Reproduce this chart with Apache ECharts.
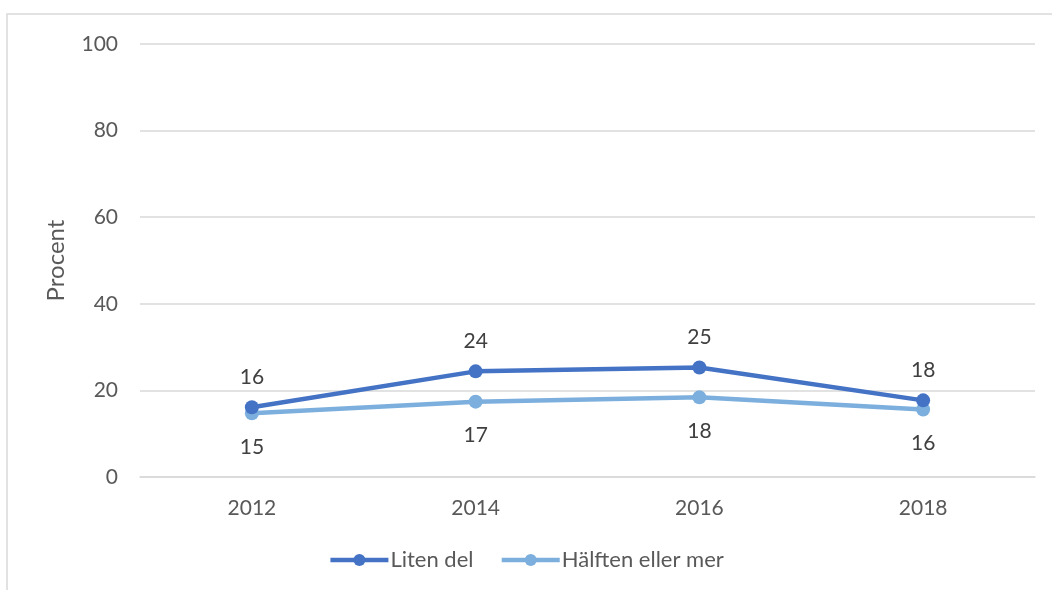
<!DOCTYPE html>
<html>
<head>
<meta charset="utf-8">
<script src="https://cdn.jsdelivr.net/npm/echarts@6/dist/echarts.min.js"></script>
<style>
	html, body { margin: 0; padding: 0; background: #fff; }
	#myChart { width: 1052px; height: 590px; }
</style>
</head>
<body>
<div id="myChart"></div>
<script>
	// data
	var years = ['2012', '2014', '2016', '2018'];
	var litenDel = [16.1, 24.4, 25.3, 17.7];
	var halftenEllerMer = [14.7, 17.4, 18.4, 15.6];
	var yTicks = { min: 0, max: 100, interval: 20 };

	var font = 'Lato, "Noto Sans", sans-serif';
	var myChart = echarts.init(document.getElementById('myChart'));
	myChart.setOption({
		animation: false,
		color: ['#4472c4', '#7cafdd'],
		textStyle: { fontFamily: font },
		graphic: [{
			type: 'rect',
			shape: { x: 7, y: 14, width: 1200, height: 700 },
			style: { fill: 'none', stroke: '#d9d9d9', lineWidth: 1.5 },
			silent: true
		}],
		grid: { left: 140, right: 17, top: 44, bottom: 113 },
		legend: {
			bottom: 14,
			left: 'center',
			itemWidth: 58,
			itemHeight: 15,
			itemGap: 26,
			lineStyle: { width: 4.5 },
			textStyle: { fontSize: 22, color: '#595959', fontFamily: font, padding: [0, 0, 0, -3] },
			data: ['Liten del', 'Hälften eller mer']
		},
		xAxis: {
			type: 'category',
			data: years,
			boundaryGap: true,
			axisLine: { lineStyle: { color: '#d9d9d9', width: 1.5 } },
			axisTick: { show: false },
			axisLabel: { color: '#595959', fontSize: 21, margin: 21, fontFamily: font }
		},
		yAxis: {
			type: 'value',
			min: yTicks.min,
			max: yTicks.max,
			interval: yTicks.interval,
			name: 'Procent',
			nameLocation: 'middle',
			nameRotate: 90,
			nameGap: 72,
			nameTextStyle: { color: '#595959', fontSize: 24, fontFamily: font },
			axisLine: { show: false },
			axisTick: { show: false },
			axisLabel: { color: '#595959', fontSize: 21, margin: 22, fontFamily: font },
			splitLine: { lineStyle: { color: '#d9d9d9', width: 1.5 } }
		},
		series: [{
			name: 'Liten del',
			type: 'line',
			data: litenDel,
			symbol: 'circle',
			symbolSize: 14,
			lineStyle: { width: 4.5 },
			label: {
				show: true,
				position: 'top',
				distance: 13,
				color: '#404040',
				fontSize: 21,
				fontFamily: font,
				formatter: function (p) { return Math.round(p.value); }
			},
			z: 3
		}, {
			name: 'Hälften eller mer',
			type: 'line',
			data: halftenEllerMer,
			symbol: 'circle',
			symbolSize: 14,
			lineStyle: { width: 4.5 },
			label: {
				show: true,
				position: 'bottom',
				distance: 16,
				color: '#404040',
				fontSize: 21,
				fontFamily: font,
				formatter: function (p) { return Math.round(p.value); }
			},
			z: 2
		}]
	});
</script>
</body>
</html>
